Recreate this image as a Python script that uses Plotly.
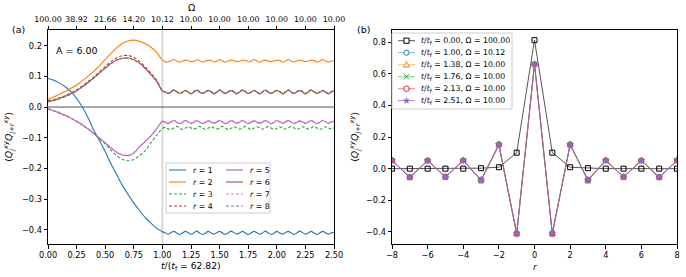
import math
import numpy as np
import plotly.graph_objects as go

# ---------------- data: panel (a) ----------------
t_pre = [0.00, 0.05, 0.10, 0.15, 0.20, 0.25, 0.30, 0.35, 0.40, 0.45,
         0.50, 0.55, 0.60, 0.65, 0.70, 0.75, 0.80, 0.85, 0.90, 0.95]
r_labels = ["1", "2", "3", "4", "5", "6", "7", "8"]

r1_pre = [0.093, 0.087, 0.078, 0.066, 0.050, 0.028, 0.000, -0.035, -0.075, -0.110,
          -0.145, -0.185, -0.220, -0.255, -0.285, -0.312, -0.337, -0.360, -0.378, -0.395]
r2_pre = [0.025, 0.033, 0.042, 0.051, 0.061, 0.072, 0.086, 0.100, 0.116, 0.135,
          0.155, 0.175, 0.193, 0.207, 0.215, 0.218, 0.214, 0.206, 0.195, 0.178]
r3_pre = [-0.007, -0.013, -0.020, -0.028, -0.037, -0.047, -0.059, -0.072, -0.087, -0.103,
          -0.120, -0.140, -0.158, -0.170, -0.175, -0.171, -0.158, -0.142, -0.116, -0.092]
r4_pre = [0.020, 0.024, 0.030, 0.037, 0.046, 0.056, 0.069, 0.083, 0.098, 0.115,
          0.132, 0.148, 0.160, 0.167, 0.168, 0.162, 0.149, 0.131, 0.110, 0.087]
r5_pre = [-0.006, -0.012, -0.019, -0.027, -0.036, -0.046, -0.058, -0.071, -0.086, -0.101,
          -0.117, -0.133, -0.147, -0.156, -0.158, -0.150, -0.130, -0.112, -0.094, -0.071]
r6_pre = [0.018, 0.022, 0.028, 0.035, 0.043, 0.053, 0.066, 0.080, 0.095, 0.111,
          0.127, 0.142, 0.153, 0.159, 0.160, 0.155, 0.143, 0.126, 0.106, 0.084]
r7_pre = [-0.005, -0.011, -0.018, -0.026, -0.035, -0.045, -0.057, -0.070, -0.085, -0.100,
          -0.116, -0.132, -0.146, -0.155, -0.157, -0.149, -0.129, -0.111, -0.093, -0.070]
r8_pre = [0.017, 0.021, 0.027, 0.034, 0.042, 0.052, 0.065, 0.079, 0.094, 0.110,
          0.126, 0.141, 0.152, 0.158, 0.159, 0.154, 0.142, 0.125, 0.105, 0.083]

r1_post = [-0.406, -0.410, -0.414, -0.409, -0.405, -0.410, -0.415, -0.410,
           -0.405, -0.409, -0.414, -0.410, -0.404, -0.410, -0.415, -0.411,
           -0.405, -0.410, -0.414, -0.409, -0.405, -0.410, -0.415, -0.410,
           -0.404, -0.409, -0.414, -0.410, -0.405, -0.410, -0.415, -0.410,
           -0.405, -0.409, -0.414, -0.410, -0.404, -0.410, -0.415, -0.411,
           -0.405, -0.410, -0.414, -0.409, -0.405, -0.410, -0.415, -0.410,
           -0.404, -0.409, -0.414, -0.410, -0.405, -0.410, -0.415, -0.410,
           -0.405, -0.409, -0.414, -0.410, -0.408]
r2_post = [0.153, 0.148, 0.147, 0.151, 0.155, 0.150, 0.146, 0.150,
           0.153, 0.151, 0.148, 0.149, 0.154, 0.151, 0.147, 0.150,
           0.152, 0.152, 0.147, 0.149, 0.155, 0.150, 0.146, 0.150,
           0.153, 0.151, 0.148, 0.150, 0.152, 0.152, 0.147, 0.149,
           0.155, 0.150, 0.146, 0.151, 0.153, 0.150, 0.148, 0.150,
           0.152, 0.152, 0.146, 0.149, 0.155, 0.150, 0.147, 0.150,
           0.153, 0.151, 0.148, 0.150, 0.152, 0.152, 0.146, 0.149,
           0.155, 0.150, 0.147, 0.150, 0.151]
r3_post = [-0.070, -0.066, -0.071, -0.073, -0.068, -0.063, -0.068, -0.073,
           -0.069, -0.064, -0.068, -0.072, -0.068, -0.063, -0.068, -0.073,
           -0.069, -0.064, -0.068, -0.072, -0.068, -0.063, -0.068, -0.073,
           -0.069, -0.064, -0.068, -0.072, -0.068, -0.063, -0.068, -0.073,
           -0.069, -0.064, -0.068, -0.072, -0.068, -0.063, -0.068, -0.073,
           -0.069, -0.064, -0.068, -0.072, -0.068, -0.063, -0.068, -0.073,
           -0.069, -0.064, -0.068, -0.072, -0.068, -0.063, -0.068, -0.073,
           -0.069, -0.064, -0.068, -0.072, -0.068]
r4_post = [0.053, 0.050, 0.045, 0.050, 0.056, 0.051, 0.045, 0.049,
           0.055, 0.050, 0.044, 0.050, 0.056, 0.050, 0.045, 0.050,
           0.055, 0.051, 0.044, 0.049, 0.056, 0.050, 0.045, 0.050,
           0.055, 0.050, 0.044, 0.050, 0.056, 0.051, 0.045, 0.049,
           0.055, 0.050, 0.044, 0.050, 0.056, 0.050, 0.045, 0.050,
           0.055, 0.051, 0.044, 0.049, 0.056, 0.050, 0.045, 0.050,
           0.055, 0.050, 0.044, 0.050, 0.056, 0.051, 0.045, 0.049,
           0.055, 0.050, 0.044, 0.050, 0.054]
r5_post = [-0.046, -0.050, -0.054, -0.049, -0.044, -0.049, -0.054, -0.050,
           -0.044, -0.048, -0.053, -0.049, -0.044, -0.049, -0.054, -0.050,
           -0.045, -0.049, -0.053, -0.049, -0.044, -0.049, -0.054, -0.050,
           -0.044, -0.048, -0.053, -0.049, -0.044, -0.049, -0.054, -0.050,
           -0.045, -0.049, -0.053, -0.049, -0.044, -0.049, -0.054, -0.050,
           -0.044, -0.048, -0.053, -0.049, -0.044, -0.049, -0.054, -0.050,
           -0.045, -0.049, -0.053, -0.049, -0.044, -0.049, -0.054, -0.050,
           -0.044, -0.048, -0.053, -0.049, -0.046]
r6_post = [0.052, 0.049, 0.044, 0.049, 0.055, 0.050, 0.044, 0.048,
           0.054, 0.049, 0.043, 0.049, 0.055, 0.049, 0.044, 0.049,
           0.054, 0.050, 0.043, 0.048, 0.055, 0.049, 0.044, 0.049,
           0.054, 0.049, 0.043, 0.049, 0.055, 0.050, 0.044, 0.048,
           0.054, 0.049, 0.043, 0.049, 0.055, 0.049, 0.044, 0.049,
           0.054, 0.050, 0.043, 0.048, 0.055, 0.049, 0.044, 0.049,
           0.054, 0.049, 0.043, 0.049, 0.055, 0.050, 0.044, 0.048,
           0.054, 0.049, 0.043, 0.049, 0.053]
r7_post = [-0.045, -0.049, -0.053, -0.048, -0.043, -0.048, -0.053, -0.049,
           -0.043, -0.047, -0.052, -0.048, -0.043, -0.048, -0.053, -0.049,
           -0.044, -0.048, -0.052, -0.048, -0.043, -0.048, -0.053, -0.049,
           -0.043, -0.047, -0.052, -0.048, -0.043, -0.048, -0.053, -0.049,
           -0.044, -0.048, -0.052, -0.048, -0.043, -0.048, -0.053, -0.049,
           -0.043, -0.047, -0.052, -0.048, -0.043, -0.048, -0.053, -0.049,
           -0.044, -0.048, -0.052, -0.048, -0.043, -0.048, -0.053, -0.049,
           -0.043, -0.047, -0.052, -0.048, -0.045]
r8_post = [0.052, 0.048, 0.044, 0.049, 0.054, 0.050, 0.044, 0.048,
           0.054, 0.049, 0.043, 0.048, 0.055, 0.049, 0.044, 0.049,
           0.054, 0.049, 0.043, 0.048, 0.055, 0.049, 0.044, 0.049,
           0.054, 0.049, 0.043, 0.048, 0.055, 0.050, 0.044, 0.048,
           0.054, 0.049, 0.043, 0.049, 0.055, 0.049, 0.044, 0.049,
           0.054, 0.050, 0.043, 0.048, 0.055, 0.049, 0.044, 0.049,
           0.054, 0.049, 0.043, 0.049, 0.055, 0.050, 0.044, 0.048,
           0.054, 0.049, 0.043, 0.049, 0.053]

bottom_ticks = [0.00, 0.25, 0.50, 0.75, 1.00, 1.25, 1.50, 1.75, 2.00, 2.25, 2.50]
omega_labels = ["100.00", "38.92", "21.66", "14.20", "10.12", "10.00",
                "10.00", "10.00", "10.00", "10.00", "10.00"]

# ---------------- data: panel (b) ----------------
r_sites = [-8, -7, -6, -5, -4, -3, -2, -1, 0, 1, 2, 3, 4, 5, 6, 7, 8]
snap_times = ["0.00", "1.00", "1.38", "1.76", "2.13", "2.51"]
snap_omegas = ["100.00", "10.12", "10.00", "10.00", "10.00", "10.00"]
snap_t000 = [0.000, 0.000, 0.000, 0.000, 0.000, 0.003, 0.009, 0.101, 0.812,
             0.101, 0.009, 0.003, 0.000, 0.000, 0.000, 0.000, 0.000]
snap_t100 = [0.052, -0.052, 0.051, -0.050, 0.052, -0.068, 0.154, -0.406, 0.660,
             -0.406, 0.154, -0.068, 0.052, -0.050, 0.051, -0.052, 0.052]
snap_t138 = [0.053, -0.054, 0.052, -0.052, 0.054, -0.072, 0.151, -0.413, 0.662,
             -0.413, 0.151, -0.072, 0.054, -0.052, 0.052, -0.054, 0.053]
snap_t176 = [0.050, -0.055, 0.051, -0.054, 0.050, -0.074, 0.153, -0.410, 0.661,
             -0.410, 0.153, -0.074, 0.050, -0.054, 0.051, -0.055, 0.050]
snap_t213 = [0.052, -0.056, 0.050, -0.053, 0.051, -0.076, 0.150, -0.414, 0.659,
             -0.414, 0.150, -0.076, 0.051, -0.053, 0.050, -0.056, 0.052]
snap_t251 = [0.053, -0.055, 0.052, -0.054, 0.053, -0.075, 0.152, -0.410, 0.660,
             -0.410, 0.152, -0.075, 0.053, -0.054, 0.052, -0.055, 0.053]

# ---------------- figure ----------------
W, H = 686, 277
FONT = "DejaVu Sans"
TICK = 8.2
LEGF = 7.8


def px_x(p):
    return p / W


def px_y(p):
    return 1 - p / H


ax_a = [px_x(48), px_x(334)]
ax_b = [px_x(392), px_x(677)]
ax_y = [px_y(244), px_y(30)]

t_post = np.linspace(1.0, 2.5, len(r1_post))
t_all = list(t_pre) + list(t_post)

fig = go.Figure()

series_a = [
    (r1_pre, r1_post, "#1f77b4", "solid"),
    (r2_pre, r2_post, "#ff7f0e", "solid"),
    (r3_pre, r3_post, "#2ca02c", "3px,2px"),
    (r4_pre, r4_post, "#d62728", "3px,2px"),
    (r5_pre, r5_post, "#9467bd", "solid"),
    (r6_pre, r6_post, "#8c564b", "solid"),
    (r7_pre, r7_post, "#e377c2", "3px,2px"),
    (r8_pre, r8_post, "#7f7f7f", "3px,2px"),
]
for lab, (pre, post, col, dash) in zip(r_labels, series_a):
    fig.add_trace(go.Scatter(
        x=t_all, y=list(pre) + list(post), mode="lines", name="r = " + lab,
        line=dict(color=col, width=1.1, dash=dash, shape="spline", smoothing=0.8),
        xaxis="x", yaxis="y", showlegend=False, hoverinfo="skip"))

# invisible trace to hold the top Omega axis
fig.add_trace(go.Scatter(x=[0], y=[None], xaxis="x3", yaxis="y",
                         showlegend=False, hoverinfo="skip"))

snaps = [
    (snap_t000, "rgba(0,0,0,0.75)", "#000000", "square-open", 5, "square"),
    (snap_t100, "rgba(31,119,180,0.6)", "#1f77b4", "circle-open", 5, "circle"),
    (snap_t138, "rgba(255,127,14,0.6)", "#ff7f0e", "triangle-up-open", 5.5, "triangle"),
    (snap_t176, "rgba(44,160,44,0.6)", "#2ca02c", "x-thin-open", 5, "x"),
    (snap_t213, "rgba(214,39,40,0.6)", "#d62728", "hexagon-open", 5, "hexagon"),
    (snap_t251, "rgba(148,103,189,0.9)", "#9467bd", "star", 5, "star"),
]
for tt, om, (vals, lcol, mcol, sym, sz, _) in zip(snap_times, snap_omegas, snaps):
    fig.add_trace(go.Scatter(
        x=r_sites, y=vals, mode="lines+markers",
        name=f"t/t_f = {tt}, Ω = {om}",
        line=dict(color=lcol, width=0.9),
        marker=dict(symbol=sym, size=sz, color=mcol,
                    line=dict(color=mcol, width=1)),
        xaxis="x2", yaxis="y2", showlegend=False, hoverinfo="skip"))

axis_common = dict(showline=True, linecolor="black", linewidth=1, mirror=True,
                   ticks="outside", ticklen=3.5, tickwidth=1, tickcolor="black",
                   showgrid=False, zeroline=False, automargin=False, tickangle=0,
                   tickfont=dict(family=FONT, size=TICK, color="black"))

top_common = dict(axis_common)
top_common["tickfont"] = dict(family=FONT, size=7.9, color="black")

fig.update_layout(
    width=W, height=H, margin=dict(l=0, r=0, t=0, b=0, pad=0, autoexpand=False),
    paper_bgcolor="white", plot_bgcolor="white",
    font=dict(family=FONT, color="black"),
    showlegend=False,
    xaxis=dict(domain=ax_a, range=[0, 2.5], anchor="y",
               tickvals=bottom_ticks, ticktext=[f"{v:.2f}" for v in bottom_ticks],
               **axis_common),
    xaxis3=dict(domain=ax_a, range=[0, 2.5], anchor="y", overlaying="x", side="top",
                tickvals=bottom_ticks, ticktext=omega_labels, **top_common),
    yaxis=dict(domain=ax_y, range=[-0.446, 0.251], anchor="x",
               tickvals=[-0.4, -0.3, -0.2, -0.1, 0.0, 0.1, 0.2], tickformat=".1f",
               **axis_common),
    xaxis2=dict(domain=ax_b, range=[-8, 8], anchor="y2",
                tickvals=[-8, -6, -4, -2, 0, 2, 4, 6, 8], **axis_common),
    yaxis2=dict(domain=ax_y, range=[-0.476, 0.876], anchor="x2",
                tickvals=[-0.4, -0.2, 0.0, 0.2, 0.4, 0.6, 0.8], tickformat=".1f",
                **axis_common),
)

fig.add_shape(type="line", xref="x", yref="y", x0=0, x1=2.5, y0=0, y1=0,
              line=dict(color="#555555", width=1), layer="below")
fig.add_shape(type="line", xref="x", yref="y domain", x0=1.0, x1=1.0, y0=0, y1=1,
              line=dict(color="rgba(128,128,128,0.3)", width=2), layer="below")


# ---------- legends (drawn as key box + samples + real text) ----------
def add_text(text, xp, yp, size, xanchor="left"):
    fig.add_annotation(text=text, x=px_x(xp), y=px_y(yp), xref="paper", yref="paper",
                       showarrow=False, xanchor=xanchor, yanchor="middle",
                       font=dict(family=FONT, size=size, color="black"))


def legend_box(x0, y0, x1, y1):
    fig.add_shape(type="rect", xref="paper", yref="paper",
                  x0=px_x(x0), x1=px_x(x1), y0=px_y(y1), y1=px_y(y0),
                  fillcolor="rgba(255,255,255,0.85)",
                  line=dict(color="#cccccc", width=1), layer="above")


def sample_line(x0, x1, y, color, dash="solid", width=1.1):
    fig.add_shape(type="line", xref="paper", yref="paper",
                  x0=px_x(x0), x1=px_x(x1), y0=px_y(y), y1=px_y(y),
                  line=dict(color=color, width=width, dash=dash), layer="above")


def poly_path(pts):
    return "M " + " L ".join(f"{px_x(a):.5f},{px_y(b):.5f}" for a, b in pts) + " Z"


def sample_marker(kind, cx, cy, color):
    s = 2.6
    if kind == "square":
        fig.add_shape(type="rect", xref="paper", yref="paper",
                      x0=px_x(cx - s), x1=px_x(cx + s), y0=px_y(cy + s), y1=px_y(cy - s),
                      fillcolor="white", line=dict(color=color, width=1), layer="above")
    elif kind == "circle":
        fig.add_shape(type="circle", xref="paper", yref="paper",
                      x0=px_x(cx - s), x1=px_x(cx + s), y0=px_y(cy + s), y1=px_y(cy - s),
                      fillcolor="white", line=dict(color=color, width=1), layer="above")
    elif kind == "triangle":
        pts = [(cx, cy - 3.2), (cx + 3.0, cy + 2.3), (cx - 3.0, cy + 2.3)]
        fig.add_shape(type="path", xref="paper", yref="paper", path=poly_path(pts),
                      fillcolor="white", line=dict(color=color, width=1), layer="above")
    elif kind == "x":
        for a, b in [((cx - s, cy - s), (cx + s, cy + s)), ((cx - s, cy + s), (cx + s, cy - s))]:
            fig.add_shape(type="line", xref="paper", yref="paper",
                          x0=px_x(a[0]), y0=px_y(a[1]), x1=px_x(b[0]), y1=px_y(b[1]),
                          line=dict(color=color, width=1), layer="above")
    elif kind == "hexagon":
        pts = [(cx + 2.9 * math.cos(math.radians(90 + 60 * k)),
                cy - 2.9 * math.sin(math.radians(90 + 60 * k))) for k in range(6)]
        fig.add_shape(type="path", xref="paper", yref="paper", path=poly_path(pts),
                      fillcolor="white", line=dict(color=color, width=1), layer="above")
    elif kind == "star":
        pts = []
        for k in range(10):
            rr = 3.2 if k % 2 == 0 else 1.3
            ang = math.radians(90 + 36 * k)
            pts.append((cx + rr * math.cos(ang), cy - rr * math.sin(ang)))
        fig.add_shape(type="path", xref="paper", yref="paper", path=poly_path(pts),
                      fillcolor=color, line=dict(color=color, width=0.5), layer="above")


# panel (a) key: two columns, r = 1..4 and r = 5..8
legend_box(166, 163, 270, 213)
rows_a = [170, 182, 194, 206]
for i, (lab, (_, _, col, dash)) in enumerate(zip(r_labels, series_a)):
    colx = 0 if i < 4 else 1
    y = rows_a[i % 4]
    lx0 = 169 if colx == 0 else 226
    sample_line(lx0, lx0 + 17, y, col, dash=dash)
    add_text(f"<i>r</i> = {lab}", lx0 + 22, y, LEGF)

# panel (b) key
legend_box(392, 33, 512, 109)
rows_b = [40.7, 52.7, 64.7, 76.7, 88.7, 100.7]
for y, tt, om, (vals, lcol, mcol, sym, sz, kind) in zip(rows_b, snap_times, snap_omegas, snaps):
    sample_line(398, 415, y, lcol, width=0.9)
    sample_marker(kind, 406.5, y, mcol)
    add_text(f"<i>t</i>/<i>t</i><sub>f</sub> = {tt}, Ω = {om}", 419, y, LEGF)

# ---------- labels ----------
ylab = ("⟨<i>Q</i><sub><i>j</i></sub><sup><i>xy</i></sup>"
        "<i>Q</i><sub><i>j</i>+<i>r</i></sub><sup><i>xy</i></sup>⟩")
ann = [
    ("(a)", 18, 29, 9.5, 0),
    ("(b)", 363, 29, 9.5, 0),
    ("A = 6.00", 77, 51, 9.5, 0),
    ("Ω", 191, 8, 9.5, 0),
    ("<i>t</i>/(<i>t</i><sub>f</sub> = 62.82)", 191, 266, 9.2, 0),
    ("<i>r</i>", 535, 266, 9.2, 0),
    (ylab, 9, 137, 9.5, -90),
    (ylab, 355, 137, 9.5, -90),
]
for text, xp, yp, size, angle in ann:
    fig.add_annotation(text=text, x=px_x(xp), y=px_y(yp), xref="paper", yref="paper",
                       showarrow=False, textangle=angle, xanchor="center",
                       yanchor="middle", borderpad=0,
                       font=dict(family=FONT, size=size, color="black"))

fig.write_html("out.html",
               config={"displayModeBar": False, "staticPlot": True},
               post_script="document.body.style.margin='0px';"
                           "document.body.style.padding='0px';"
                           "document.body.style.overflow='hidden';")
